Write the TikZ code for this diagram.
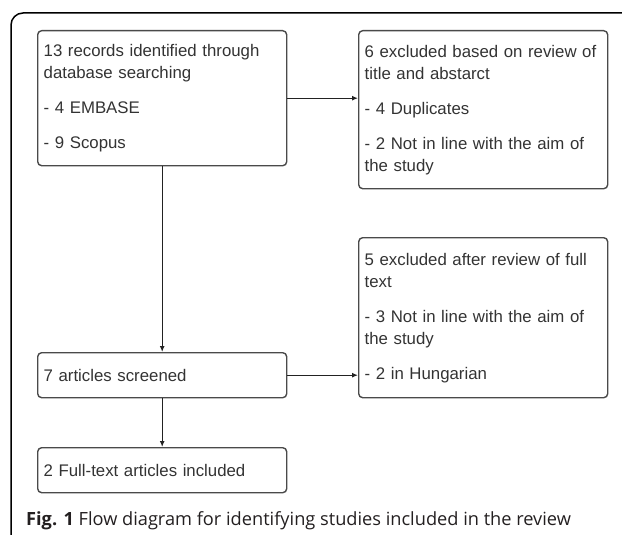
\documentclass[tikz,border=0pt]{standalone}
\usepackage{fontspec}
\setmainfont{Liberation Sans}
\newfontfamily\capfont{Open Sans}
\usetikzlibrary{arrows.meta}
\definecolor{boxline}{HTML}{4A4A4A}
\definecolor{boxtext}{HTML}{333333}
\definecolor{arrline}{HTML}{222222}
\definecolor{captext}{HTML}{231F20}

\begin{document}
\begin{tikzpicture}[x=1pt, y=-1pt,
  box/.style={draw=boxline, line width=1.4pt, rounded corners=4pt,
    anchor=north west, text width=237pt, inner xsep=6pt, inner ysep=0pt,
    align=left, text=boxtext, font=\fontsize{16.8}{22}\selectfont},
  arr/.style={draw=arrline, line width=1.3pt, -{Latex[length=6pt, width=5pt]}}]
\useasboundingbox (0, 0) rectangle (622, 535);
\draw [line width=1.5pt, rounded corners=12pt] (11, 535) |- (622, 13);
\node (rec) [box, minimum height=135pt] at (37, 30)
  {13 records identified through\\database searching\\[13pt]- 4 EMBASE\\[13pt]- 9 Scopus};
\node (exclA) [box, minimum height=158pt] at (358, 30)
  {6 excluded based on review of\\title and abstarct\\[13pt]- 4 Duplicates\\[13pt]- 2 Not in line with the aim of\\the study};
\node (exclB) [box, minimum height=160pt] at (358, 237)
  {5 excluded after review of full\\text\\[13pt]- 3 Not in line with the aim of\\the study\\[13pt]- 2 in Hungarian};
\node (screen) [box, minimum height=45pt] at (37, 352) {7 articles screened};
\node (incl) [box, minimum height=45pt] at (37, 447) {2 Full-text articles included};
\draw [arr] (rec.east) -- (rec.east -| exclA.west);
\draw [arr] (rec.south) -- (screen.north);
\draw [arr] (screen.east) -- (screen.east -| exclB.west);
\draw [arr] (screen.south) -- (incl.north);
\node (cap) [anchor=base west, inner sep=0pt, text=captext,
  font=\capfont\fontsize{18.2}{21}\selectfont] at (26, 525)
  {\textbf{Fig. 1} Flow diagram for identifying studies included in the review};
\end{tikzpicture}
\end{document}
